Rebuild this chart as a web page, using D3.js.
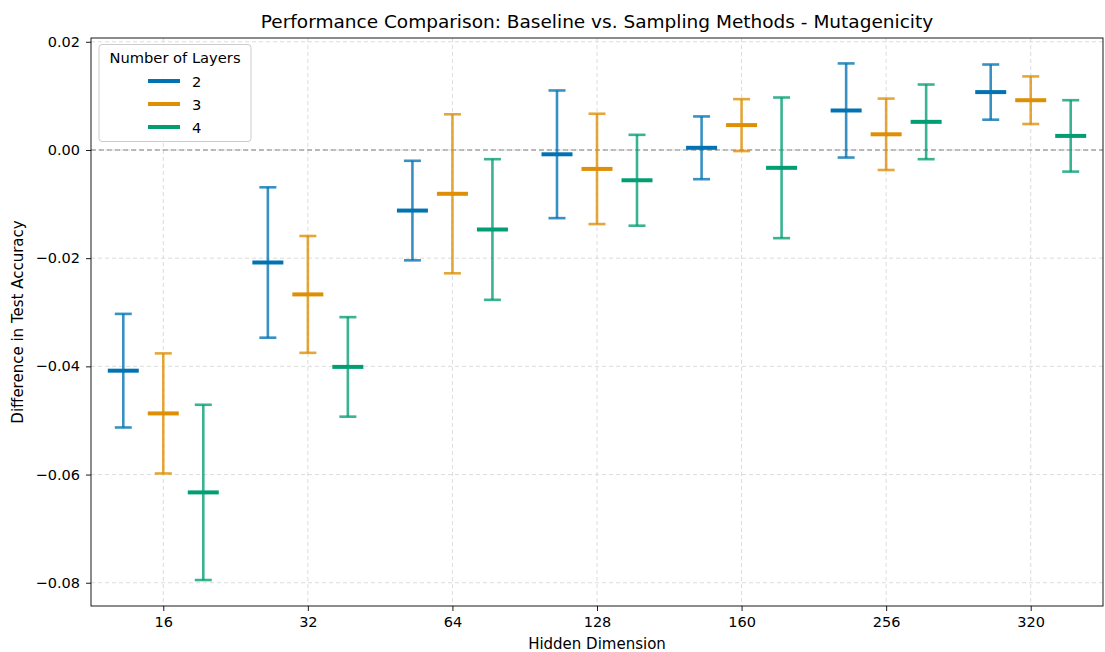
<!DOCTYPE html>
<html><head><meta charset="utf-8">
<script src="https://cdn.jsdelivr.net/npm/d3@7"></script>
<style>body{margin:0;background:#fff;} svg{display:block;font-family:"DejaVu Sans",sans-serif;}</style>
</head><body>
<svg id="chart" width="1105" height="652"></svg>
<script>
const categories = ["16","32","64","128","160","256","320"];
const layers = ["2","3","4"];
const colors = ["#0173b2","#de8f05","#029e73"];
const mean2 = [-0.0408,-0.0208,-0.0112,-0.0008,0.0004,0.0073,0.0107];
const err2  = [0.0105,0.0139,0.0092,0.0118,0.0058,0.0087,0.0051];
const mean3 = [-0.0487,-0.0267,-0.0081,-0.0035,0.0046,0.0029,0.0092];
const err3  = [0.0111,0.0108,0.0147,0.0102,0.0048,0.0066,0.0044];
const mean4 = [-0.0633,-0.0401,-0.0147,-0.0056,-0.0033,0.0052,0.0026];
const err4  = [0.0162,0.0092,0.0130,0.0084,0.0130,0.0069,0.0066];
const yTicks = [0.02,0.00,-0.02,-0.04,-0.06,-0.08];

const series = [
  {name:layers[0], mean:mean2, err:err2, color:colors[0]},
  {name:layers[1], mean:mean3, err:err3, color:colors[1]},
  {name:layers[2], mean:mean4, err:err4, color:colors[2]}
];

const svg = d3.select("#chart");
const L = 91, R = 1103, T = 38, B = 606;
const x = d3.scaleLinear().domain([-0.5, categories.length-0.5]).range([L, R]);
const y = d3.scaleLinear().domain([-0.0843, 0.0207]).range([B, T]);
const offset = 40;

// grid
const g = svg.append("g");
g.selectAll(".gx").data(categories).enter().append("line")
  .attr("x1",(d,i)=>x(i)).attr("x2",(d,i)=>x(i)).attr("y1",T).attr("y2",B)
  .attr("stroke","#d3d3d3").attr("stroke-width",0.8).attr("stroke-dasharray","4,3");
g.selectAll(".gy").data(yTicks).enter().append("line")
  .attr("x1",L).attr("x2",R).attr("y1",d=>y(d)).attr("y2",d=>y(d))
  .attr("stroke","#d3d3d3").attr("stroke-width",0.8).attr("stroke-dasharray","4,3");

// zero line
svg.append("line").attr("x1",L).attr("x2",R).attr("y1",y(0)).attr("y2",y(0))
  .attr("stroke","#808080").attr("stroke-width",1.2).attr("stroke-dasharray","5,3");

// error bars
series.forEach((s,si)=>{
  const gg = svg.append("g");
  s.mean.forEach((m,i)=>{
    const cx = x(i) + (si-1)*offset;
    const lo = m - s.err[i], hi = m + s.err[i];
    gg.append("line").attr("x1",cx).attr("x2",cx).attr("y1",y(lo)).attr("y2",y(hi))
      .attr("stroke",s.color).attr("stroke-width",2.6).attr("opacity",0.78);
    [lo,hi].forEach(v=>{
      gg.append("line").attr("x1",cx-8.5).attr("x2",cx+8.5).attr("y1",y(v)).attr("y2",y(v))
        .attr("stroke",s.color).attr("stroke-width",2.6).attr("opacity",0.78);
    });
    gg.append("line").attr("x1",cx-15.5).attr("x2",cx+15.5).attr("y1",y(m)).attr("y2",y(m))
      .attr("stroke",s.color).attr("stroke-width",4);
  });
});

// axes
const xAxis = d3.axisBottom(x).tickValues(d3.range(categories.length)).tickFormat(i=>categories[i]).tickSize(5).tickPadding(5.5);
const yAxis = d3.axisLeft(y).tickValues(yTicks).tickFormat(d=>d3.format(".2f")(d).replace("-","\u2212")).tickSize(5).tickPadding(6);
const ax = svg.append("g").attr("transform",`translate(0,${B})`).call(xAxis);
const ay = svg.append("g").attr("transform",`translate(${L},0)`).call(yAxis);
[ax,ay].forEach(a=>{
  a.select(".domain").remove();
  a.selectAll("text").attr("font-size",14.5).attr("fill","#000").attr("font-family","DejaVu Sans");
  a.selectAll("line").attr("stroke","#000").attr("stroke-width",0.9);
});
svg.append("rect").attr("x",L).attr("y",T).attr("width",R-L).attr("height",B-T)
  .attr("fill","none").attr("stroke","#000").attr("stroke-width",0.9);

// labels
svg.append("text").attr("x",(L+R)/2).attr("y",28).attr("text-anchor","middle")
  .attr("font-size",18.5).text("Performance Comparison: Baseline vs. Sampling Methods - Mutagenicity");
svg.append("text").attr("x",(L+R)/2).attr("y",649).attr("text-anchor","middle")
  .attr("font-size",15).text("Hidden Dimension");
svg.append("text").attr("transform",`translate(23,${(T+B)/2}) rotate(-90)`).attr("text-anchor","middle")
  .attr("font-size",15).text("Difference in Test Accuracy");

// legend
const lg = svg.append("g");
lg.append("rect").attr("x",99).attr("y",44.5).attr("width",152).attr("height",97).attr("rx",3)
  .attr("fill","#fff").attr("fill-opacity",0.8).attr("stroke","#ccc").attr("stroke-width",1);
lg.append("text").attr("x",175).attr("y",63).attr("text-anchor","middle").attr("font-size",14.7).text("Number of Layers");
series.forEach((s,i)=>{
  const yy = 81 + i*23;
  lg.append("line").attr("x1",148).attr("x2",180).attr("y1",yy).attr("y2",yy)
    .attr("stroke",s.color).attr("stroke-width",4);
  lg.append("text").attr("x",192).attr("y",yy+5.5).attr("font-size",14.7).text(s.name);
});
</script>
</body></html>
